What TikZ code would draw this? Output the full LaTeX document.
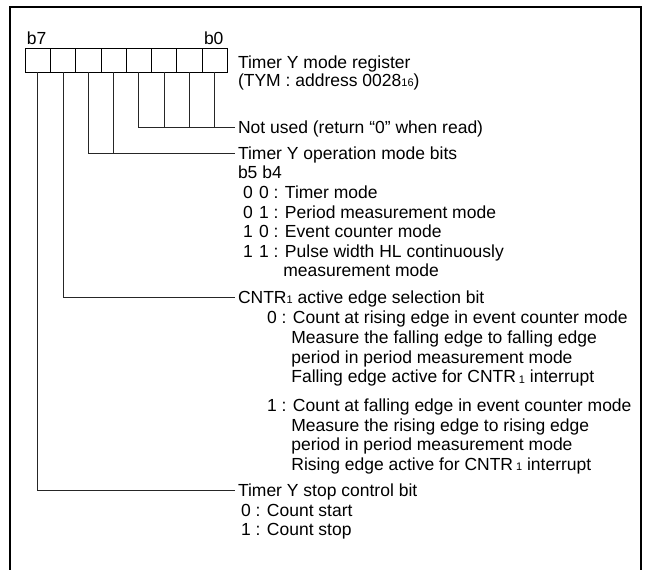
\documentclass[tikz,border=0pt]{standalone}
\usepackage{fontspec}
\setmainfont{Liberation Sans}
\newcommand{\smallidx}[1]{\raisebox{-0.6pt}{\fontsize{11}{11}\selectfont #1}}
\begin{document}
\begin{tikzpicture}[x=1pt,y=-1pt,
  cell/.style={draw=black,line width=1pt,minimum width=25.25pt,minimum height=24pt,inner sep=0pt,outer sep=0pt},
  txt/.style={anchor=west,inner sep=0pt,outer sep=0pt,text height=12.5pt,text depth=0pt,font=\fontsize{17.5}{20}\selectfont},
  conn/.style={draw=black!85,line width=1pt},
  frameline/.style={draw=black,line width=2pt}]
\useasboundingbox (0,0) rectangle (645,570);
\draw[frameline] (10,570) -- (10,7) -- (641,7) -- (641,570);

% register cells
\node[cell] (b7) at (37.925,60) {};
\node[cell] (b6) at (63.175,60) {};
\node[cell] (b5) at (88.425,60) {};
\node[cell] (b4) at (113.675,60) {};
\node[cell] (b3) at (138.925,60) {};
\node[cell] (b2) at (164.175,60) {};
\node[cell] (b1) at (189.425,60) {};
\node[cell] (b0) at (214.675,60) {};

\node[txt] (lb7) at (27,38) {b7};
\node[txt] (lb0) at (204,38) {b0};

% titles
\node[txt] (t1) at (238,62) {Timer Y mode register};
\node[txt] (t2) at (238,80) {(TYM : address 0028\smallidx{16})};

\node[txt] (nu) at (238,127) {Not used (return “0” when read)};

\node[txt] (op) at (238,153) {Timer Y operation mode bits};
\node[txt] (op1) at (238,172.5) {b5 b4};
\node[txt] (op2) at (243,192) {0\hspace{6.3pt}0 : Timer mode};
\node[txt] (op3) at (243,212) {0\hspace{6.3pt}1 : Period measurement mode};
\node[txt] (op4) at (243,231.5) {1\hspace{6.3pt}0 : Event counter mode};
\node[txt] (op5) at (243,251) {1\hspace{6.3pt}1 : Pulse width HL continuously};
\node[txt] (op6) at (283.3,270.5) {measurement mode};

\node[txt] (cn) at (238,297) {CNTR\smallidx{1} active edge selection bit};
\node[txt] (cn1) at (267,317.5) {0 : Count at rising edge in event counter mode};
\node[txt] (cn2) at (291.4,337) {Measure the falling edge to falling edge};
\node[txt] (cn3) at (291.4,357) {period in period measurement mode};
\node[txt] (cn4) at (291.4,376.5) {Falling edge active for CNTR\,\smallidx{1} interrupt};
\node[txt] (cn5) at (267,405) {1 : Count at falling edge in event counter mode};
\node[txt] (cn6) at (291.4,425) {Measure the rising edge to rising edge};
\node[txt] (cn7) at (291.4,444.5) {period in period measurement mode};
\node[txt] (cn8) at (291.4,464) {Rising edge active for CNTR\,\smallidx{1} interrupt};

\node[txt] (st) at (238,490) {Timer Y stop control bit};
\node[txt] (st1) at (241,510) {0 : Count start};
\node[txt] (st2) at (241,529.5) {1 : Count stop};

% connectors
\draw[conn] (b3.south) |- ([xshift=-3pt]nu.west);
\draw[conn] (b2.south) -- (b2.south |- nu.west);
\draw[conn] (b1.south) -- (b1.south |- nu.west);
\draw[conn] (b0.south) -- (b0.south |- nu.west);
\draw[conn] (b5.south) |- ([xshift=-3pt]op.west);
\draw[conn] (b4.south) -- (b4.south |- op.west);
\draw[conn] (b6.south) |- ([xshift=-3pt]cn.west);
\draw[conn] (b7.south) |- ([xshift=-3pt]st.west);
\end{tikzpicture}
\end{document}
